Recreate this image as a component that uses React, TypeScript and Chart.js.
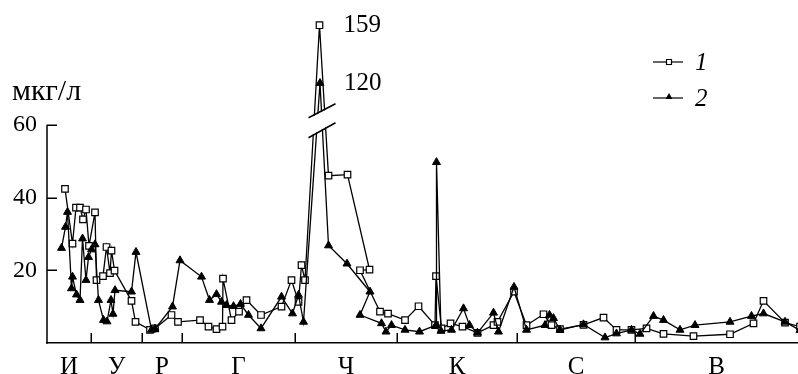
import React, { useEffect, useRef } from 'react';
import { Chart, registerables, LinearScale } from 'chart.js';

// ---------- data ----------
const categories = ['И', 'У', 'Р', 'Г', 'Ч', 'К', 'С', 'В'];
// group boundaries along the station axis
const groupBounds = [0, 8.8, 19, 27, 49.6, 70, 94, 117.6, 150.2];
const yTicks = [20, 40, 60];
const yAxisTop = 60;
const yScaleTopValue = 176;
const seriesLabels = ['1', '2'];
const unitLabel = 'мкг/л';

const series1X = [3.6, 5.1, 5.8, 6.6, 7.2, 7.8, 8.4, 9.6, 9.9, 11.2, 11.9, 12.6, 12.9, 13.5, 16.9, 17.7,
  20.6, 21.6, 24.9, 26.2, 30.6, 32.3, 33.9, 35.1, 35.2, 36.9, 38.4, 39.9, 42.8, 46.9, 48.9, 50.3, 50.9, 51.6,
  54.5, 56.3, 60.1, 64.5, 62.6, 66.6, 68.2, 71.6, 74.3, 77.6, 77.8, 78.9, 80.7, 83.1, 86.1, 89.3, 90.1, 93.4,
  95.9, 99.3, 100.9, 102.6, 107.3, 111.3, 113.9, 116.9, 119.9, 123.3, 129.3, 136.6, 141.3, 143.3, 147.6, 150.6];
const series1Y = [42.4, 27.3, 37.2, 37.2, 34, 36.7, 26.7, 35.9, 17.3, 18.4, 26.4, 19.2, 25.4, 19.9, 11.6, 5.8,
  3.6, 4, 7.7, 5.8, 6.3, 4.5, 3.8, 4.5, 17.7, 6.3, 8.6, 11.8, 7.7, 10, 17.3, 11.3, 21.4, 17.3,
  159, 46, 46.3, 20.2, 20, 8.6, 8.1, 6.3, 10.1, 4.9, 18.4, 4, 5.4, 4.5, 2.8, 4.9, 5.8, 14.1,
  4.9, 7.9, 4.9, 3.8, 5, 7, 3.6, 3.6, 4, 2.5, 1.9, 2.4, 5.4, 11.6, 5.6, 4.5];

const series2X = [2.9, 3.7, 4.1, 4.9, 5.1, 5.9, 6.6, 7.1, 7.8, 8.3, 8.9, 9.6, 10.3, 11.3, 12, 12.8, 13.2, 13.6,
  16.9, 17.8, 20.9, 21.6, 25.1, 26.6, 30.9, 32.5, 33.9, 34.9, 35.9, 37.3, 38.7, 40.3, 42.8, 46.9, 49.1, 50.3,
  51.3, 54.6, 56.3, 60, 64.6, 62.6, 66.9, 67.8, 68.9, 71.6, 74.5, 77.8, 77.9, 78.8, 80.9, 83.3, 84.5, 86.1,
  89.3, 90.3, 93.4, 95.9, 99.6, 100.5, 101.3, 102.6, 107.3, 111.6, 113.9, 116.9, 118.6, 121.3, 123.3, 126.6,
  129.6, 136.6, 140.9, 143.3, 147.6, 150.6];
const series2Y = [26.1, 31.9, 36, 15, 18.2, 13.3, 11.8, 28.7, 17.3, 23.6, 25.7, 27.1, 11.8, 6.3, 5.9, 11.8, 8, 14.5,
  14.1, 25, 3.6, 3.9, 10, 22.7, 18.2, 11.8, 13.4, 11.3, 10.4, 10.1, 10.7, 7.7, 4, 12.7, 8.1, 13.2,
  5.8, 120, 26.8, 21.8, 14.1, 7.7, 5.4, 3.1, 4.9, 3.6, 3.1, 4.9, 49.7, 3.3, 3.6, 9.5, 4.9, 2.8,
  8.3, 3.1, 15.4, 3.6, 4.9, 7.7, 6.8, 3.6, 5.1, 1.5, 2.6, 3.6, 2.5, 7.4, 6.3, 3.6,
  4.9, 5.8, 7.4, 8.1, 5.8, 3.5];

// ---------- broken y axis ----------
const BREAK_LOW = 62;
const BREAK_HIGH = 100;
const BREAK_SPAN = 1.3;
const UPPER_RATIO = 0.408;

function toVirtual(v: number): number {
  if (v == null || isNaN(v)) return v;
  if (v <= BREAK_LOW) return v;
  if (v <= BREAK_HIGH) return BREAK_LOW + (v - BREAK_LOW) * (BREAK_SPAN / (BREAK_HIGH - BREAK_LOW));
  return BREAK_LOW + BREAK_SPAN + (v - BREAK_HIGH) * UPPER_RATIO;
}
function fromVirtual(u: number): number {
  if (u <= BREAK_LOW) return u;
  if (u <= BREAK_LOW + BREAK_SPAN) return BREAK_LOW + (u - BREAK_LOW) * ((BREAK_HIGH - BREAK_LOW) / BREAK_SPAN);
  return BREAK_HIGH + (u - BREAK_LOW - BREAK_SPAN) / UPPER_RATIO;
}

class BrokenLinearScale extends LinearScale {
  static id = 'brokenLinear';
  static defaults = LinearScale.defaults;
  getPixelForValue(value: any) {
    return super.getPixelForValue(toVirtual(value));
  }
  getValueForPixel(pixel: number) {
    return fromVirtual(super.getValueForPixel(pixel) as number);
  }
}

Chart.register(...registerables, BrokenLinearScale as any);

const SERIF = '"Liberation Serif", "Times New Roman", serif';

function drawSquare(ctx: CanvasRenderingContext2D, x: number, y: number, s: number) {
  ctx.beginPath();
  ctx.rect(x - s / 2, y - s / 2, s, s);
  ctx.fillStyle = '#fff';
  ctx.fill();
  ctx.stroke();
}
function drawTriangle(ctx: CanvasRenderingContext2D, x: number, y: number, r: number) {
  ctx.beginPath();
  ctx.moveTo(x, y - r);
  ctx.lineTo(x + r * 0.866, y + r * 0.5);
  ctx.lineTo(x - r * 0.866, y + r * 0.5);
  ctx.closePath();
  ctx.fillStyle = '#000';
  ctx.fill();
}

const decorPlugin = {
  id: 'decor',
  afterDatasetsDraw(chart: any) {
    const { ctx, scales } = chart;
    const y = scales.y;
    const meta = chart.getDatasetMeta(0);
    const iMax = series1Y.indexOf(Math.max(...series1Y));
    const px = meta.data[iMax].x;
    const p60 = y.getPixelForValue(yAxisTop);
    const xl = px - 11;
    const xr = px + 16;
    ctx.save();
    ctx.fillStyle = '#fff';
    ctx.beginPath();
    ctx.moveTo(xl, p60 - 6);
    ctx.lineTo(xr, p60 - 20);
    ctx.lineTo(xr, p60 - 3);
    ctx.lineTo(xl, p60 + 12);
    ctx.closePath();
    ctx.fill();
    ctx.strokeStyle = '#000';
    ctx.lineWidth = 1.5;
    ctx.beginPath();
    ctx.moveTo(xl, p60 - 7);
    ctx.lineTo(xr, p60 - 21);
    ctx.moveTo(xl, p60 + 13);
    ctx.lineTo(xr, p60 - 2);
    ctx.stroke();
    ctx.restore();
  },
  afterDraw(chart: any) {
    const { ctx, scales, chartArea } = chart;
    const x = scales.x;
    const y = scales.y;
    ctx.save();
    ctx.strokeStyle = '#000';
    ctx.lineWidth = 1.5;
    // y axis line (0..60)
    ctx.beginPath();
    ctx.moveTo(chartArea.left, y.getPixelForValue(yAxisTop));
    ctx.lineTo(chartArea.left, chartArea.bottom + 0.75);
    yTicks.forEach((v) => {
      const py = Math.round(y.getPixelForValue(v)) + 0.25;
      ctx.moveTo(chartArea.left, py);
      ctx.lineTo(chartArea.left + 10, py);
    });
    groupBounds.slice(1, -1).forEach((b) => {
      const bx = Math.round(x.getPixelForValue(b)) + 0.25;
      ctx.moveTo(bx, chartArea.bottom);
      ctx.lineTo(bx, chartArea.bottom - 10);
    });
    ctx.stroke();

    // peak value labels
    ctx.fillStyle = '#000';
    ctx.font = `25px ${SERIF}`;
    ctx.textAlign = 'left';
    ctx.textBaseline = 'middle';
    [series1Y, series2Y].forEach((arr, di) => {
      const m = Math.max(...arr);
      const idx = arr.indexOf(m);
      const pt = chart.getDatasetMeta(di).data[idx];
      ctx.fillText(String(m), pt.x + 24, pt.y);
    });

    // unit label
    ctx.font = `30px ${SERIF}`;
    ctx.textBaseline = 'alphabetic';
    ctx.fillText(unitLabel, 12, 100);

    // legend
    const legY = [62, 98];
    ctx.lineWidth = 1.2;
    legY.forEach((ly, i) => {
      ctx.strokeStyle = '#000';
      ctx.beginPath();
      ctx.moveTo(653, ly);
      ctx.lineTo(683, ly);
      ctx.stroke();
      if (i === 0) drawSquare(ctx, 669, ly, 5);
      else drawTriangle(ctx, 669, ly - 1, 4);
      ctx.fillStyle = '#000';
      ctx.font = `italic 25px ${SERIF}`;
      ctx.textBaseline = 'middle';
      ctx.fillText(seriesLabels[i], 695, ly + 1);
    });
    ctx.restore();
  },
};

export default function App() {
  const ref = useRef<HTMLCanvasElement>(null);
  useEffect(() => {
    if (!ref.current) return;
    const mids = groupBounds.slice(0, -1).map((b, i) => (b + groupBounds[i + 1]) / 2);
    const chart = new Chart(ref.current, {
      type: 'line',
      data: {
        datasets: [
          {
            label: seriesLabels[0],
            data: series1X.map((xv, i) => ({ x: xv, y: series1Y[i] })),
            borderColor: '#000',
            borderWidth: 1.3,
            pointStyle: 'rect',
            pointRadius: 4.6,
            pointBackgroundColor: '#fff',
            pointBorderColor: '#000',
            pointBorderWidth: 1.2,
            tension: 0,
            clip: false as any,
            order: 2,
          },
          {
            label: seriesLabels[1],
            data: series2X.map((xv, i) => ({ x: xv, y: series2Y[i] })),
            borderColor: '#000',
            borderWidth: 1.3,
            pointStyle: 'triangle',
            pointRadius: 4.6,
            pointBackgroundColor: '#000',
            pointBorderColor: '#000',
            pointBorderWidth: 1,
            tension: 0,
            clip: false as any,
            order: 1,
          },
        ],
      },
      options: {
        animation: false,
        responsive: true,
        maintainAspectRatio: false,
        layout: { padding: { top: 0, left: 0, right: 0, bottom: 0 }, autoPadding: false },
        plugins: { legend: { display: false }, tooltip: { enabled: false } },
        scales: {
          x: {
            type: 'linear',
            min: groupBounds[0],
            max: groupBounds[groupBounds.length - 1],
            grid: { display: false, drawTicks: false },
            border: { display: true, color: '#000', width: 1.5 },
            afterBuildTicks: (s: any) => {
              s.ticks = mids.map((v) => ({ value: v }));
            },
            afterFit: (s: any) => {
              s.height = 31;
              s.paddingLeft = 0;
              s.paddingRight = 0;
            },
            ticks: {
              autoSkip: false,
              maxRotation: 0,
              padding: 9,
              color: '#000',
              font: { family: SERIF, size: 25 },
              callback: (_v: any, i: number) => categories[i],
            },
          },
          y: {
            type: 'brokenLinear' as any,
            min: 0,
            max: toVirtual(yScaleTopValue),
            grid: { display: false, drawTicks: false },
            border: { display: false },
            afterBuildTicks: (s: any) => {
              s.ticks = yTicks.map((v) => ({ value: v }));
            },
            afterFit: (s: any) => {
              s.width = 47;
              s.paddingTop = 0;
              s.paddingBottom = 0;
            },
            ticks: {
              padding: 10,
              color: '#000',
              font: { family: SERIF, size: 24 },
              callback: (v: any) => String(v),
            },
          },
        } as any,
      },
      plugins: [decorPlugin],
    });
    return () => chart.destroy();
  }, []);
  return (
    <div style={{ position: 'absolute', left: 0, top: 0, width: 798, height: 374, background: '#fff' }}>
      <canvas ref={ref} />
    </div>
  );
}
